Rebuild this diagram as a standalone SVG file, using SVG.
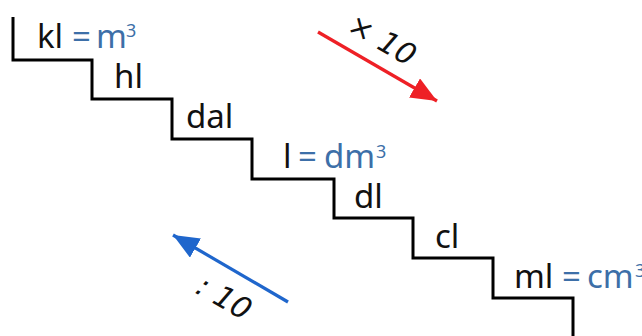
<svg xmlns="http://www.w3.org/2000/svg" width="642" height="336" viewBox="0 0 642 336">
<style>
.u{font-family:"Noto Sans","Open Sans",sans-serif;font-size:33px;fill:#111}
.b{fill:#3d6fa8}
.s{font-family:"Noto Sans","Open Sans",sans-serif;font-size:18px;fill:#3d6fa8}
.f{font-family:"DejaVu Sans",sans-serif;font-style:italic;font-size:30px;fill:#111}
</style>
<defs>
<marker id="hr" markerUnits="userSpaceOnUse" markerWidth="30" markerHeight="24" refX="26" refY="11" orient="auto"><path d="M0,0 L26,11 L0,22 Z" fill="#ee2026"/></marker>
<marker id="hb" markerUnits="userSpaceOnUse" markerWidth="30" markerHeight="24" refX="26" refY="11" orient="auto"><path d="M0,0 L26,11 L0,22 Z" fill="#1f66cc"/></marker>
</defs>
<g id="stairs">
<path d="M13,17 V60 H92 V99 H172 V139 H252 V179 H334 V218 H413 V258 H493 V298 H573 V336" fill="none" stroke="#000" stroke-width="3"/>
</g>
<g id="connectors">
<line x1="318" y1="32" x2="437" y2="101" stroke="#ee2026" stroke-width="3.2" marker-end="url(#hr)"/>
<line x1="288" y1="302" x2="173" y2="235" stroke="#1f66cc" stroke-width="3.2" marker-end="url(#hb)"/>
</g>
<g id="kl"><text class="u" x="37" y="48">kl</text><text class="u b" x="72" y="48">=</text><text class="u b" x="96" y="48">m</text><text class="s" x="126" y="37">3</text></g>
<g id="hl"><text class="u" x="114" y="88">hl</text></g>
<g id="dal"><text class="u" x="186" y="128">dal</text></g>
<g id="l"><text class="u" x="283" y="168">l</text><text class="u b" x="298" y="168">=</text><text class="u b" x="324" y="168">dm</text><text class="s" x="376" y="158">3</text></g>
<g id="dl"><text class="u" x="354" y="208">dl</text></g>
<g id="cl"><text class="u" x="435" y="248">cl</text></g>
<g id="ml"><text class="u" x="514" y="288">ml</text><text class="u b" x="562" y="288">=</text><text class="u b" x="587" y="288">cm</text><text class="s" x="635" y="277">3</text></g>
<g id="times10"><text class="f" transform="translate(382,40) rotate(30)" x="0" y="10" text-anchor="middle">× 10</text></g>
<g id="div10"><text class="f" transform="translate(224,298) rotate(30)" x="0" y="10" text-anchor="middle">: 10</text></g>
</svg>
